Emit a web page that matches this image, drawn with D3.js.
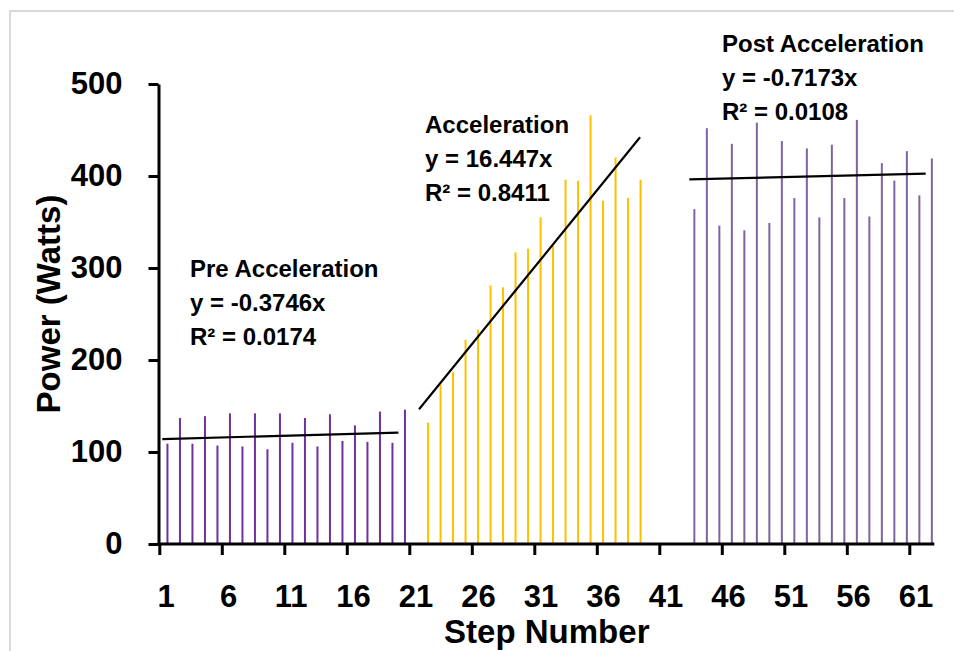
<!DOCTYPE html>
<html>
<head>
<meta charset="utf-8">
<script src="https://cdn.jsdelivr.net/npm/d3@7"></script>
<style>
  html, body { margin: 0; padding: 0; background: #fff; }
  svg { display: block; }
  text { font-family: "Liberation Sans", Arial, sans-serif; font-weight: bold; fill: #000; }
</style>
</head>
<body>
<svg id="chart" width="954" height="651"></svg>
<script>
// ---- data ----
const preSteps = d3.range(1, 21);
const preWatts = [109, 137, 109, 139, 107, 142, 106, 142, 103, 142,
                  110, 137, 106, 141, 112, 129, 111, 144, 110, 146];
const accelSteps = d3.range(22, 40);
const accelWatts = [132, 173, 187, 222, 233, 281, 279, 317, 321, 355,
                    324, 396, 395, 466, 373, 420, 376, 396];
const postSteps = d3.range(43, 63);
const postWatts = [364, 452, 346, 435, 341, 458, 349, 438, 376, 430,
                   355, 434, 376, 461, 356, 414, 395, 427, 379, 419];

// trend line end points [step, watts]
const preTrend = [[0.74, 114.1], [19.63, 121.0]];
const accelTrend = [[21.28, 146.4], [38.96, 442.1]];
const postTrend = [[42.9, 396.4], [61.81, 402.5]];

const yTicks = [0, 100, 200, 300, 400, 500];
const xTickLabels = [1, 6, 11, 16, 21, 26, 31, 36, 41, 46, 51, 56, 61];
const xTickBoundaries = [0.5, 5.5, 10.5, 15.5, 20.5, 25.5, 30.5, 35.5, 40.5, 45.5, 50.5, 55.5, 60.5];

const annotations = [
  { name: "Pre Acceleration", eq: "y = -0.3746x", r2: "R² = 0.0174" },
  { name: "Acceleration", eq: "y = 16.447x", r2: "R² = 0.8411" },
  { name: "Post Acceleration", eq: "y = -0.7173x", r2: "R² = 0.0108" }
];

(function () {
// ---- layout ----
const svg = d3.select("#chart");
const plotLeft = 159.3, plotRight = 934.3, plotTop = 84, plotBottom = 544;

const x = d3.scaleLinear().domain([0.5, 62.5]).range([plotLeft, plotRight]);
const y = d3.scaleLinear().domain([0, 500]).range([plotBottom, plotTop]);
const seriesOffset = d3.scalePoint().domain(["accel", "pre", "post"]).range([0, 3.8]);

const colors = { pre: "#7030A0", accel: "#FFC000", post: "#8064A2" };

// chart border
svg.append("rect")
  .attr("x", 10).attr("y", 11).attr("width", 1000).attr("height", 700)
  .attr("fill", "none").attr("stroke", "#d9d9d9").attr("stroke-width", 2);

// bars
const series = [
  { key: "pre", steps: preSteps, watts: preWatts },
  { key: "accel", steps: accelSteps, watts: accelWatts },
  { key: "post", steps: postSteps, watts: postWatts }
];
const barW = 2;
series.forEach(s => {
  svg.append("g").selectAll("rect")
    .data(s.steps.map((st, i) => ({ step: st, w: s.watts[i] })))
    .join("rect")
    .attr("x", d => x(d.step) + seriesOffset(s.key) - barW / 2)
    .attr("y", d => y(d.w))
    .attr("width", barW)
    .attr("height", d => y(0) - y(d.w))
    .attr("fill", colors[s.key]);
});

// trend lines
const line = d3.line().x(d => x(d[0])).y(d => y(d[1]));
[preTrend, accelTrend, postTrend].forEach(t => {
  svg.append("path").attr("d", line(t))
    .attr("fill", "none").attr("stroke", "#000").attr("stroke-width", 2.2);
});

// y axis
const yAxis = svg.append("g")
  .attr("transform", `translate(158.5,0)`)
  .call(d3.axisLeft(y).tickValues(yTicks).tickSize(10).tickSizeOuter(0).tickPadding(26));
yAxis.select(".domain").attr("stroke", "#000").attr("stroke-width", 3);
yAxis.selectAll(".tick line").attr("stroke", "#000").attr("stroke-width", 3);
yAxis.selectAll(".tick text").attr("font-size", 31).style("font-family", "'Liberation Sans', Arial, sans-serif").style("font-weight", "bold");

// x axis: ticks at category boundaries
const xAxisTicks = svg.append("g")
  .attr("transform", `translate(0,${y(0)})`)
  .call(d3.axisBottom(x).tickValues(xTickBoundaries).tickSize(11).tickSizeOuter(0).tickFormat(""));
xAxisTicks.select(".domain").attr("stroke", "#000").attr("stroke-width", 3)
  .attr("d", `M${plotLeft - 1.5},0H${plotRight}`);
xAxisTicks.selectAll(".tick line").attr("stroke", "#000").attr("stroke-width", 3);

// x axis labels at category centers
const xAxisLabels = svg.append("g")
  .attr("transform", `translate(0,${y(0)})`)
  .call(d3.axisBottom(x).tickValues(xTickLabels).tickSize(0).tickPadding(41));
xAxisLabels.select(".domain").remove();
xAxisLabels.selectAll(".tick text").attr("font-size", 31).style("font-family", "'Liberation Sans', Arial, sans-serif").style("font-weight", "bold");

// axis titles
svg.append("text")
  .attr("transform", "translate(60,304) rotate(-90)")
  .attr("text-anchor", "middle")
  .attr("font-size", 33)
  .text("Power (Watts)");
svg.append("text")
  .attr("x", (plotLeft + plotRight) / 2).attr("y", 643)
  .attr("text-anchor", "middle")
  .attr("font-size", 33)
  .text("Step Number");

// trend annotations
const annoPos = [
  { x: 190, y: 277 },
  { x: 425, y: 133 },
  { x: 722, y: 52 }
];
annotations.forEach((a, i) => {
  const g = svg.append("g").attr("transform", `translate(${annoPos[i].x},${annoPos[i].y})`);
  [a.name, a.eq, a.r2].forEach((t, j) => {
    g.append("text").attr("x", 0).attr("y", j * 34).attr("font-size", 24).text(t);
  });
});
})();
</script>
</body>
</html>
